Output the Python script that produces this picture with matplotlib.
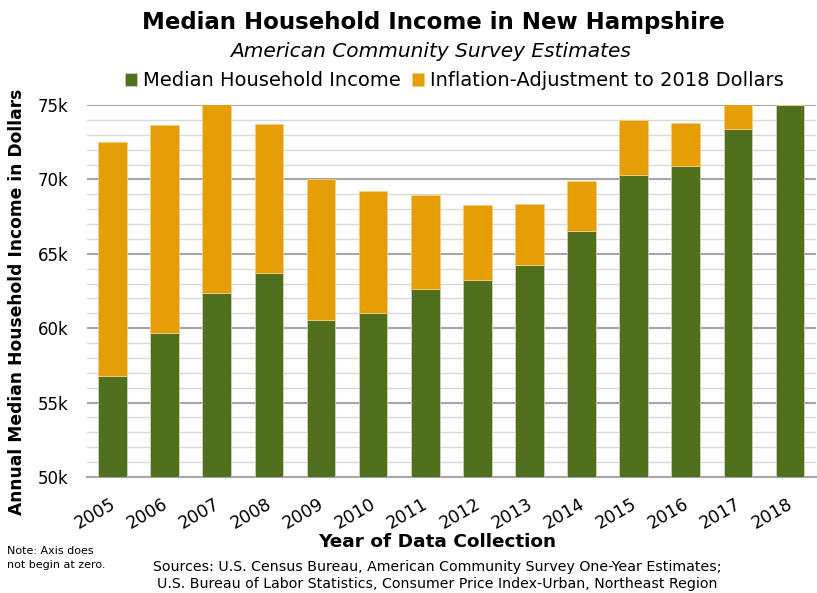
import numpy as np
import matplotlib
matplotlib.use('Agg')
import matplotlib.pyplot as plt
import matplotlib.transforms as mtransforms
from matplotlib.ticker import MultipleLocator, FuncFormatter

# values in thousands of dollars
years = ['2005', '2006', '2007', '2008', '2009', '2010', '2011',
         '2012', '2013', '2014', '2015', '2016', '2017', '2018']
median_income = [56.77, 59.69, 62.40, 63.74, 60.58, 61.03, 62.65,
                 63.27, 64.28, 66.55, 70.29, 70.92, 73.39, 74.99]
adjusted_total = [72.53, 73.65, 76.00, 73.70, 70.02, 69.22, 68.95,
                  68.27, 68.36, 69.89, 73.97, 73.81, 75.20, 74.99]
inflation_adj = [t - m for t, m in zip(adjusted_total, median_income)]

green = '#50701E'
orange = '#E69E06'

fig = plt.figure(figsize=(8.17, 5.93), dpi=100)
ax = fig.add_axes([0.1059, 0.1956, 0.893, 0.6273])

x = np.arange(len(years))
w = 0.55
ax.bar(x, median_income, width=w, color=green, edgecolor='#c9d3b8', linewidth=0.6, zorder=3,
       label='Median Household Income')
ax.bar(x, inflation_adj, width=w, bottom=median_income, color=orange, edgecolor='#f3cf82',
       linewidth=0.6, zorder=3, label='Inflation-Adjustment to 2018 Dollars')

ax.set_xlim(-0.5, len(years) - 0.5)
ax.set_ylim(50, 75)
ax.yaxis.set_major_locator(MultipleLocator(5))
ax.yaxis.set_minor_locator(MultipleLocator(1))
ax.yaxis.set_major_formatter(FuncFormatter(lambda v, p: f'{int(v)}k'))
ax.grid(which='major', axis='y', color='#A6A6A6', linewidth=1.5, zorder=1)
ax.grid(which='minor', axis='y', color='#D9D9D9', linewidth=1.0, zorder=1)
ax.tick_params(axis='y', which='both', length=0, labelsize=12, pad=13)
ax.tick_params(axis='x', length=0, labelsize=12.5, pad=13)
ax.set_xticks(x)
ax.set_xticklabels(years, rotation=30, ha='right', va='top')
# nudge year labels a little to the right, like the original
shift = mtransforms.ScaledTranslation(6 / 100, 0, fig.dpi_scale_trans)
for lbl in ax.get_xticklabels():
    lbl.set_transform(lbl.get_transform() + shift)
for s in ['top', 'right', 'left']:
    ax.spines[s].set_visible(False)
ax.spines['bottom'].set_color('#A6A6A6')
ax.spines['bottom'].set_linewidth(1.5)

ax.set_ylabel('Annual Median Household Income in Dollars', fontsize=12.3,
              fontweight='bold', va='center')
ax.yaxis.set_label_coords(-0.095, 0.47)

fig.text(0.531, 0.962, 'Median Household Income in New Hampshire', ha='center', va='center',
         fontsize=16.5, fontweight='bold')
fig.text(0.527, 0.913, 'American Community Survey Estimates', ha='center', va='center',
         fontsize=14.5, style='italic')
ax.legend(loc='center', bbox_to_anchor=(0.504, 1.065), ncol=2, frameon=False,
          fontsize=14, handlelength=0.6, handleheight=0.6, handletextpad=0.3,
          columnspacing=0.6, borderaxespad=0)

fig.text(0.535, 0.086, 'Year of Data Collection', ha='center', va='center',
         fontsize=13.3, fontweight='bold')
fig.text(0.535, 0.0295, 'Sources: U.S. Census Bureau, American Community Survey One-Year Estimates;\n'
         'U.S. Bureau of Labor Statistics, Consumer Price Index-Urban, Northeast Region',
         ha='center', va='center', fontsize=10.2, linespacing=1.25)
fig.text(0.009, 0.059, 'Note: Axis does\nnot begin at zero.', ha='left', va='center',
         fontsize=8, linespacing=1.4)

fig.savefig('out.png', dpi=100)
